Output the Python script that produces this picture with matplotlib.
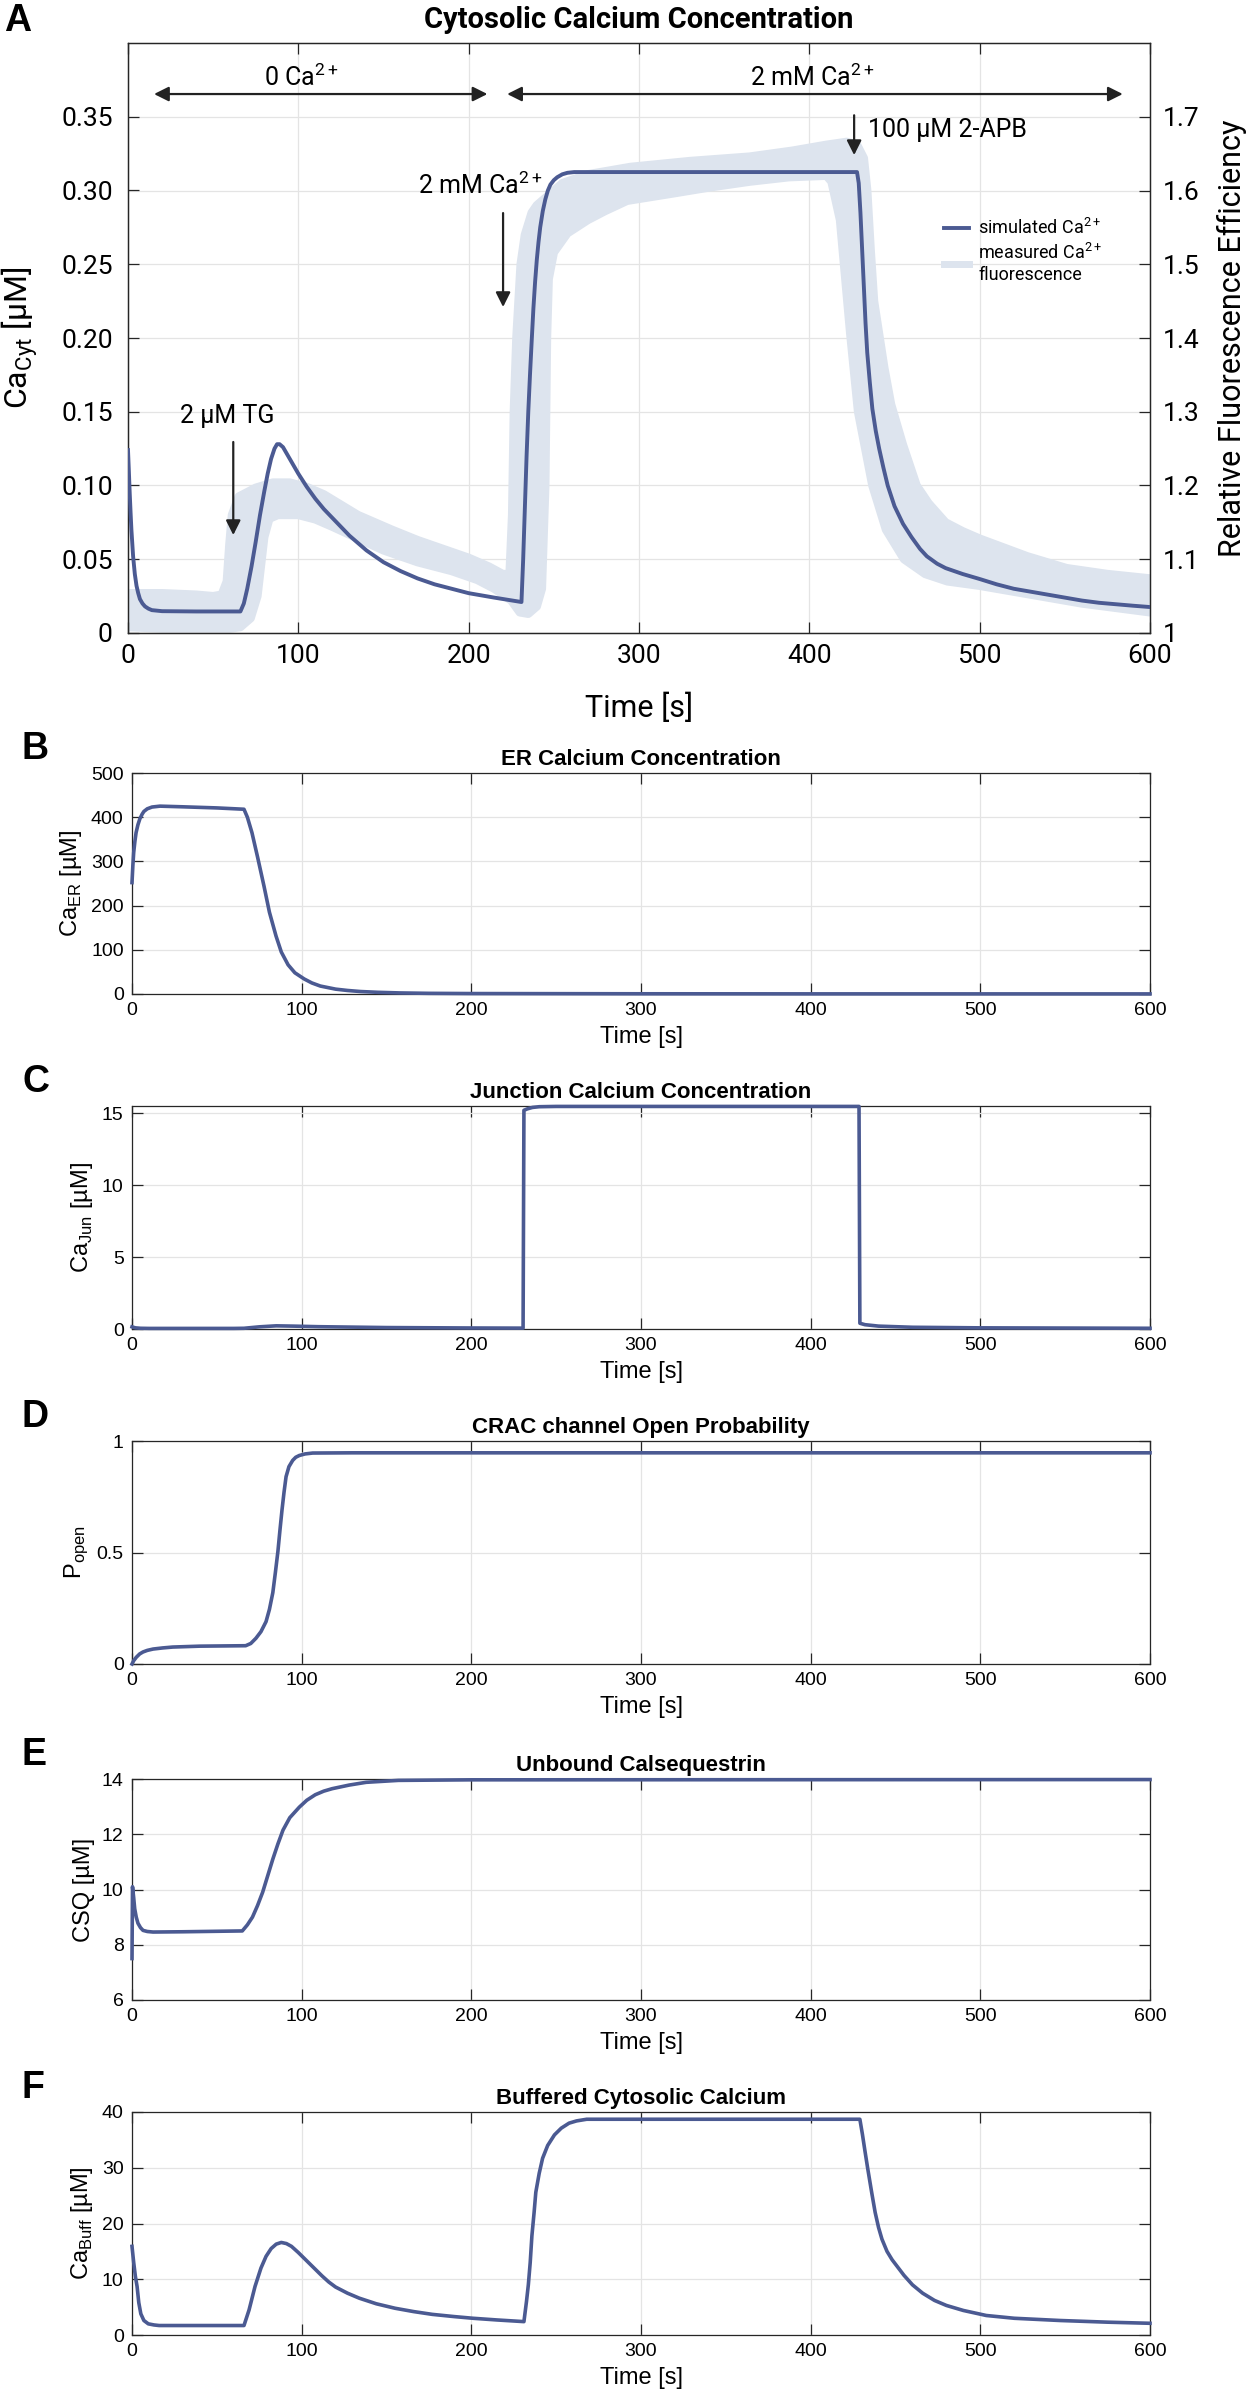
import numpy as np
import matplotlib
matplotlib.use('Agg')
import matplotlib.pyplot as plt
from matplotlib.lines import Line2D

# ---------------- data ----------------
time_ticks = [0, 100, 200, 300, 400, 500, 600]

# Panel A: simulated cytosolic Ca (uM)
t_cyt = [0, 0.5, 1, 1.5, 2, 3, 4, 5, 6, 7, 8.5, 10, 12, 14, 20, 40, 66, 68, 70, 72.5, 75,
         77.5, 80, 82, 84, 86, 87.5, 89, 91, 93, 95, 97.5, 100, 105, 110, 115, 120, 125,
         130, 135, 140, 145, 150, 160, 170, 180, 190, 200, 215, 231, 232, 233, 234, 235,
         236, 237, 238, 239, 240, 241, 242, 243.5, 245, 246.5, 248, 250, 252, 255, 258,
         262, 428, 429, 430, 431, 432, 433, 434, 435.5, 437, 439, 441, 443.5, 446, 450,
         455, 460, 465, 469, 475, 480, 490, 500, 510, 520, 530, 540, 550, 560, 570, 580,
         590, 600]
v_cyt = [0.124, 0.110, 0.095, 0.082, 0.070, 0.052, 0.040, 0.032, 0.027, 0.023, 0.020, 0.018,
         0.0165, 0.0155, 0.0148, 0.0146, 0.0146, 0.020, 0.030, 0.045, 0.062, 0.080, 0.096,
         0.108, 0.118, 0.125, 0.128, 0.128, 0.126, 0.122, 0.118, 0.113, 0.108, 0.099, 0.091,
         0.084, 0.078, 0.072, 0.066, 0.061, 0.056, 0.052, 0.048, 0.042, 0.037, 0.033, 0.030,
         0.027, 0.024, 0.021, 0.050, 0.085, 0.120, 0.150, 0.175, 0.198, 0.220, 0.238, 0.253,
         0.265, 0.275, 0.286, 0.294, 0.300, 0.304, 0.307, 0.309, 0.311, 0.312, 0.3125,
         0.3125, 0.305, 0.285, 0.260, 0.235, 0.210, 0.190, 0.170, 0.152, 0.137, 0.125,
         0.112, 0.100, 0.086, 0.074, 0.065, 0.057, 0.052, 0.047, 0.044, 0.040, 0.0366,
         0.033, 0.030, 0.028, 0.026, 0.024, 0.022, 0.0205, 0.0195, 0.0185, 0.0176]

# Panel A: measured fluorescence band (relative fluorescence efficiency)
t_meas_hi = [0, 20, 40, 50, 55, 58, 59.5, 61, 65, 75, 85, 95, 105, 115, 125, 135, 145, 155,
             170, 185, 200, 212, 220, 224, 225.5, 226.5, 228, 230.5, 233, 237, 240, 247, 255,
             270, 295, 330, 365, 390, 410, 422, 428, 432, 434, 436, 438, 440, 444, 448, 455,
             463, 470, 480, 490, 500, 528, 551, 575, 600]
v_meas_hi = [1.054, 1.054, 1.052, 1.050, 1.052, 1.070, 1.120, 1.160, 1.185, 1.197, 1.204,
             1.204, 1.198, 1.188, 1.174, 1.160, 1.150, 1.140, 1.126, 1.114, 1.102, 1.090,
             1.080, 1.080, 1.160, 1.300, 1.400, 1.500, 1.540, 1.570, 1.580, 1.594, 1.610,
             1.622, 1.632, 1.640, 1.646, 1.654, 1.662, 1.666, 1.662, 1.644, 1.600, 1.520,
             1.450, 1.420, 1.360, 1.310, 1.255, 1.200, 1.176, 1.150, 1.138, 1.128, 1.104,
             1.088, 1.080, 1.074]
t_meas_lo = [0, 20, 40, 60, 66, 72, 76, 78, 80, 83, 88, 100, 110, 120, 135, 150, 170, 190,
             205, 215, 225, 230, 235, 240, 243, 245, 246, 247, 250, 258, 270, 280, 293, 320,
             341, 365, 388, 410, 413, 418, 424, 428.6, 437, 445, 455.6, 468, 481, 500, 530,
             560, 600]
v_meas_lo = [1.008, 1.006, 1.006, 1.006, 1.008, 1.020, 1.050, 1.090, 1.130, 1.155, 1.160,
             1.160, 1.154, 1.144, 1.128, 1.112, 1.096, 1.084, 1.072, 1.060, 1.044, 1.028,
             1.026, 1.036, 1.060, 1.200, 1.400, 1.480, 1.516, 1.542, 1.560, 1.572, 1.586,
             1.596, 1.604, 1.612, 1.618, 1.620, 1.612, 1.560, 1.406, 1.300, 1.200, 1.140,
             1.100, 1.080, 1.070, 1.064, 1.052, 1.040, 1.028]

# Panel B: ER calcium (uM)
t_er = [0, 0.5, 1, 1.7, 2.4, 3.5, 4.7, 6, 7, 9, 11.8, 16.5, 30, 50, 66, 68, 70.7, 74, 77.8,
        81, 84.9, 88, 92, 96, 101.5, 106, 111, 120, 127, 134.6, 145, 158, 175, 200, 300, 400,
        600]
v_er = [252, 290, 320, 345, 365, 383, 397, 407, 413, 419, 423, 425, 423.5, 421, 418, 400,
        365, 310, 244, 185, 131, 95, 66, 48, 34, 25, 18, 11, 8, 5.6, 3.8, 2.4, 1.5, 1.0, 0.5,
        0.3, 0.2]

# Panel C: junction calcium (uM)
t_jun = [0, 2, 5, 10, 30, 60, 66, 75, 85, 95, 110, 150, 200, 230.5, 231, 233, 236, 240, 250,
         428.5, 429, 432, 440, 460, 500, 600]
v_jun = [0.15, 0.08, 0.05, 0.04, 0.04, 0.04, 0.05, 0.15, 0.22, 0.20, 0.16, 0.10, 0.07, 0.06,
         15.2, 15.3, 15.4, 15.45, 15.47, 15.47, 0.40, 0.30, 0.20, 0.12, 0.08, 0.05]

# Panel D: CRAC channel open probability
t_p = [0, 1, 2.5, 4.5, 6.5, 9, 12.4, 18, 24, 40, 67, 70, 73, 76, 79, 81, 83, 84.5, 86, 87.2,
       88.4, 89.6, 90.8, 92.5, 94.7, 96.5, 98.6, 102, 106.5, 130, 600]
v_p = [0, 0.015, 0.030, 0.045, 0.054, 0.061, 0.067, 0.072, 0.076, 0.080, 0.082, 0.092,
       0.115, 0.145, 0.190, 0.245, 0.320, 0.410, 0.505, 0.600, 0.690, 0.770, 0.840, 0.885,
       0.913, 0.927, 0.935, 0.942, 0.946, 0.947, 0.947]

# Panel E: unbound calsequestrin (uM)
t_csq = [0, 0.3, 1, 1.6, 2.5, 3.5, 5, 6.5, 9, 12.4, 30, 65, 68, 71, 74, 77, 80, 83, 86, 89,
         93, 98.6, 103, 108, 113, 118, 128, 138, 157, 200, 600]
v_csq = [7.5, 10.1, 9.7, 9.3, 9.0, 8.78, 8.62, 8.52, 8.48, 8.46, 8.47, 8.5, 8.72, 9.0, 9.42,
         9.9, 10.5, 11.1, 11.65, 12.15, 12.6, 12.98, 13.23, 13.43, 13.56, 13.65, 13.78,
         13.88, 13.95, 13.97, 13.98]

# Panel F: buffered cytosolic calcium (uM)
t_buf = [0, 1, 2, 3, 4, 5.2, 7, 9.6, 13, 16, 66, 69, 72.5, 76, 79, 82, 85, 88, 91, 94, 98,
         103, 108, 112, 116, 120, 127, 134, 144, 155, 166, 177, 190, 201, 215, 231, 232.5,
         233.6, 234.7, 235.7, 237, 238, 240, 242, 245, 249, 253, 257.6, 262, 268, 429,
         430.5, 432, 433.6, 436, 438, 440, 442, 445, 448, 451, 455, 460, 466, 473, 480, 490,
         503.5, 520, 547, 575, 600]
v_buf = [15.9, 13.0, 10.5, 8.7, 5.8, 3.8, 2.6, 2.0, 1.8, 1.7, 1.7, 4.5, 8.7, 12.0, 14.1,
         15.5, 16.3, 16.6, 16.4, 15.9, 14.8, 13.3, 11.8, 10.6, 9.5, 8.6, 7.5, 6.6, 5.6, 4.8,
         4.2, 3.7, 3.3, 3.0, 2.7, 2.4, 6.0, 9.0, 13.0, 17.8, 22.0, 25.6, 29.0, 31.7, 34.0,
         35.9, 37.1, 38.0, 38.4, 38.7, 38.7, 36.0, 33.0, 29.9, 25.5, 22.0, 19.3, 17.2, 15.0,
         13.5, 12.3, 10.7, 9.0, 7.5, 6.2, 5.3, 4.4, 3.5, 3.0, 2.6, 2.3, 2.1]

# tick labels
a_left_ticks = [0, 0.05, 0.10, 0.15, 0.20, 0.25, 0.30, 0.35]
a_left_labels = ['0', '0.05', '0.10', '0.15', '0.20', '0.25', '0.30', '0.35']
a_right_ticks = [1.0, 1.1, 1.2, 1.3, 1.4, 1.5, 1.6, 1.7]
a_right_labels = ['1', '1.1', '1.2', '1.3', '1.4', '1.5', '1.6', '1.7']

# ---------------- style ----------------
W, H = 1256, 2396
LINE_C = '#4B5A92'
BAND_C = '#DDE4EE'
AX_C = '#262626'
GRID_C = '#E4E4E4'
ARROW_C = '#222222'
ROBOTO = ['Roboto', 'DejaVu Sans']
ARIAL = ['Liberation Sans', 'DejaVu Sans']

plt.rcParams['font.family'] = ARIAL
plt.rcParams['axes.unicode_minus'] = False

fig = plt.figure(figsize=(W / 100, H / 100), dpi=100)
fig.patch.set_facecolor('white')


def px_axes(left, top, right, bottom):
    return fig.add_axes([left / W, 1 - bottom / H, (right - left) / W, (bottom - top) / H])


def style_spines(ax):
    for s in ax.spines.values():
        s.set_color(AX_C)
        s.set_linewidth(0.9)


# ================= Panel A =================
axA = px_axes(128, 43, 1150, 633)
axA2 = axA.twinx()
axA.set_zorder(2)
axA2.set_zorder(1)
axA.patch.set_visible(False)
axA2.patch.set_visible(True)
axA2.patch.set_facecolor('white')

axA.set_xlim(0, 600)
axA.set_ylim(0, 0.40)
axA2.set_ylim(1.0, 1.8)

# grid drawn on lower axis so the band covers it
axA2.xaxis.set_visible(True)
axA2.set_xticks(time_ticks)
axA2.set_yticks(a_right_ticks)
axA2.set_yticklabels(a_right_labels)
axA2.grid(True, color=GRID_C, lw=0.9)
axA2.tick_params(axis='x', bottom=False, top=False, labelbottom=False, labeltop=False)

# measured band
band_t = np.concatenate([t_meas_hi, t_meas_lo[::-1]])
band_v = np.concatenate([v_meas_hi, v_meas_lo[::-1]])
axA2.fill(band_t, band_v, color=BAND_C, lw=6, ec=BAND_C, joinstyle='round', zorder=2)

# simulated line
axA.plot(t_cyt, v_cyt, color=LINE_C, lw=2.8, zorder=3, solid_joinstyle='round')

axA.set_xticks(time_ticks)
axA.set_yticks(a_left_ticks)
axA.set_yticklabels(a_left_labels)
axA.tick_params(direction='in', length=8, width=0.9, top=True, right=False, colors=AX_C,
                labelcolor='black', labelsize=19, labelfontfamily=ROBOTO, pad=11)
axA.tick_params(axis='x', pad=8)
axA2.tick_params(axis='y', direction='in', length=8, width=0.9, colors=AX_C,
                 labelcolor='black', labelsize=19, labelfontfamily=ROBOTO, pad=9)
style_spines(axA)
style_spines(axA2)

axA.set_title('Cytosolic Calcium Concentration', fontsize=21, fontweight='bold',
              family=ROBOTO, pad=11)
axA.set_xlabel('Time [s]', fontsize=22, family=ROBOTO, labelpad=18)
axA.set_ylabel(r'Ca$_\mathregular{Cyt}$ [µM]', fontsize=23, family=ROBOTO)
axA.yaxis.set_label_coords(-0.085, 0.5)
axA2.set_ylabel('Relative Fluorescence Efficiency', fontsize=22, family=ROBOTO)
axA2.yaxis.set_label_coords(1.066, 0.5)

# annotations
arrow_kw = dict(color=ARROW_C, lw=1.6, shrinkA=0, shrinkB=0, mutation_scale=22)
axA.annotate('', xy=(211, 0.3654), xytext=(15.3, 0.3654),
             arrowprops=dict(arrowstyle='<|-|>', **arrow_kw))
axA.annotate('', xy=(584, 0.3654), xytext=(222.6, 0.3654),
             arrowprops=dict(arrowstyle='<|-|>', **arrow_kw))
axA.text(102, 0.3708, r'0 Ca$^\mathregular{2+}$', ha='center', va='baseline',
         fontsize=18, family=ROBOTO)
axA.text(401.6, 0.3708, r'2 mM Ca$^\mathregular{2+}$', ha='center', va='baseline',
         fontsize=18, family=ROBOTO)
axA.annotate('', xy=(220.2, 0.221), xytext=(220.2, 0.2847),
             arrowprops=dict(arrowstyle='-|>', **arrow_kw))
axA.text(207, 0.2976, r'2 mM Ca$^\mathregular{2+}$', ha='center', va='baseline',
         fontsize=18, family=ROBOTO)
axA.annotate('', xy=(61.8, 0.0664), xytext=(61.8, 0.1295),
             arrowprops=dict(arrowstyle='-|>', **arrow_kw))
axA.text(58, 0.1424, '2 µM TG', ha='center', va='baseline', fontsize=18, family=ROBOTO)
axA.annotate('', xy=(426.3, 0.324), xytext=(426.3, 0.351),
             arrowprops=dict(arrowstyle='-|>', **arrow_kw))
axA.text(434.5, 0.3363, '100 µM 2-APB', ha='left', va='baseline', fontsize=18, family=ROBOTO)

axA.legend(handles=[Line2D([], [], color=LINE_C, lw=2.8), Line2D([], [], color=BAND_C, lw=5)],
           labels=[r'simulated Ca$^\mathregular{2+}$',
                   'measured Ca$^\\mathregular{2+}$\nfluorescence'],
           loc='upper left', bbox_to_anchor=((944 - 128) / 1022, (633 - 218) / 590),
           frameon=False, prop={'family': ROBOTO, 'size': 13}, handlelength=1.4,
           handletextpad=0.5, labelspacing=0.25, borderaxespad=0, borderpad=0)

# ================= Panels B-F =================
panels = [
    (773, 994, t_er, v_er, (0, 500), [0, 100, 200, 300, 400, 500],
     'ER Calcium Concentration', r'Ca$_\mathregular{ER}$ [µM]'),
    (1106, 1329, t_jun, v_jun, (0, 15.5), [0, 5, 10, 15],
     'Junction Calcium Concentration', r'Ca$_\mathregular{Jun}$ [µM]'),
    (1441, 1664, t_p, v_p, (0, 1), [0, 0.5, 1],
     'CRAC channel Open Probability', r'P$_\mathregular{open}$'),
    (1779, 2000, t_csq, v_csq, (6, 14), [6, 8, 10, 12, 14],
     'Unbound Calsequestrin', 'CSQ [µM]'),
    (2112, 2335, t_buf, v_buf, (0, 40), [0, 10, 20, 30, 40],
     'Buffered Cytosolic Calcium', r'Ca$_\mathregular{Buff}$ [µM]'),
]
letters = ['B', 'C', 'D', 'E', 'F']

for (top, bot, tt, vv, ylim, yt, title, ylab), letter in zip(panels, letters):
    ax = px_axes(132, top, 1150, bot)
    ax.plot(tt, vv, color=LINE_C, lw=2.6, zorder=3, clip_on=False, solid_joinstyle='round')
    ax.set_xlim(0, 600)
    ax.set_ylim(*ylim)
    ax.set_xticks(time_ticks)
    ax.set_yticks(yt)
    ax.yaxis.set_major_formatter(matplotlib.ticker.FormatStrFormatter('%g'))
    ax.grid(True, color=GRID_C, lw=0.9)
    ax.set_axisbelow(True)
    ax.tick_params(direction='in', length=8, width=0.9, top=True, right=True, colors=AX_C,
                   labelcolor='black', labelsize=14, pad=6)
    style_spines(ax)
    ax.set_title(title, fontsize=16, fontweight='bold', pad=6)
    ax.set_xlabel('Time [s]', fontsize=17, labelpad=5)
    ax.set_ylabel(ylab, fontsize=17, labelpad=5)
    fig.text(22 / W, 1 - (top - 14) / H, letter, fontsize=27, fontweight='bold',
             ha='left', va='baseline')

fig.text(4 / W, 1 - 31 / H, 'A', fontsize=27, fontweight='bold', ha='left', va='baseline')

fig.savefig('out.png', dpi=100, facecolor='white')
